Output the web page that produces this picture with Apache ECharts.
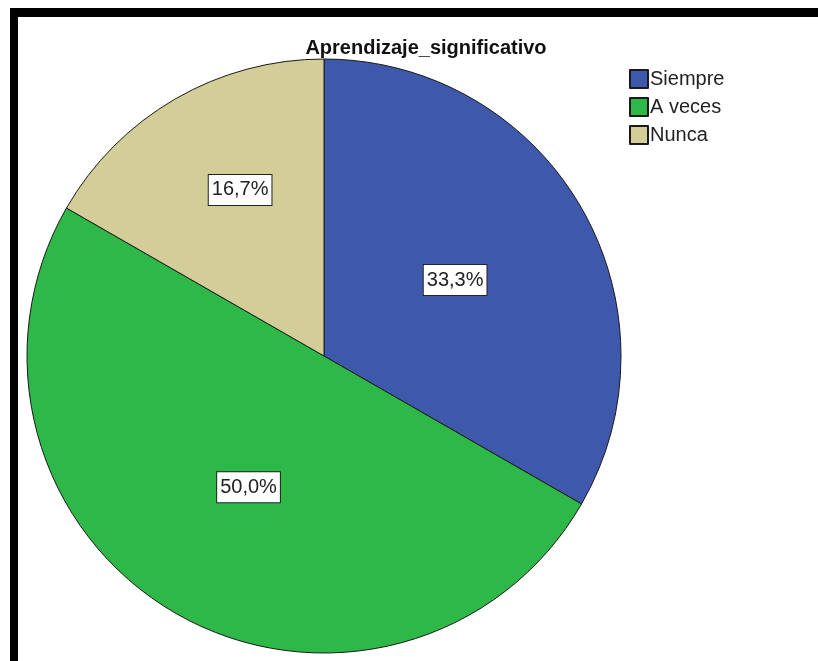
<!DOCTYPE html>
<html>
<head>
<meta charset="utf-8">
<script src="https://cdn.jsdelivr.net/npm/echarts@6/dist/echarts.min.js"></script>
<style>
html,body{margin:0;padding:0;background:#fff;}
#chart{width:818px;height:661px;}
</style>
</head>
<body>
<div id="chart"></div>
<script>
var titleText = 'Aprendizaje_significativo';
var categories = ['Siempre', 'A veces', 'Nunca'];
var percents = [33.3, 50.0, 16.7];
var colors = ['#3E58AC', '#2EB848', '#D3CE97'];

var chart = echarts.init(document.getElementById('chart'), null, {renderer: 'canvas'});

var data = categories.map(function (c, i) {
  var item = {name: c, value: percents[i], itemStyle: {color: colors[i]}};
  if (i === 2) { item.label = {offset: [-8, -35]}; }
  return item;
});

chart.setOption({
  animation: false,
  backgroundColor: '#ffffff',
  title: {
    text: titleText,
    left: 421,
    top: 33,
    textAlign: 'center',
    textStyle: {fontFamily: 'Liberation Sans, Arial, sans-serif', fontWeight: 'bold', fontSize: 20, color: '#111'}
  },
  legend: {
    orient: 'vertical',
    left: 624,
    top: 64,
    itemWidth: 18,
    itemHeight: 18,
    itemGap: 8,
    icon: 'rect',
    selectedMode: false,
    textStyle: {fontFamily: 'Liberation Sans, Arial, sans-serif', fontSize: 20, color: '#222', padding: [0, 0, 0, -3]},
    data: categories
  },
  graphic: [
    {type: 'rect', shape: {x: 10, y: 8, width: 808, height: 9}, style: {fill: '#000'}, z: 100},
    {type: 'rect', shape: {x: 10, y: 8, width: 8, height: 653}, style: {fill: '#000'}, z: 100}
  ],
  series: [{
    type: 'pie',
    center: [324, 356],
    radius: [0, 297],
    startAngle: 90,
    clockwise: true,
    avoidLabelOverlap: false,
    itemStyle: {borderColor: '#1a1a1a', borderWidth: 1},
    emphasis: {disabled: true},
    label: {
      show: true,
      position: 'inside',
      formatter: function (p) { return p.value.toFixed(1).replace('.', ',') + '%'; },
      fontFamily: 'Liberation Sans, Arial, sans-serif',
      fontSize: 20,
      lineHeight: 22,
      color: '#222',
      backgroundColor: '#ffffff',
      borderColor: '#222',
      borderWidth: 1,
      padding: [4, 3, 4, 3]
    },
    labelLine: {show: false},
    data: data
  }]
});
</script>
</body>
</html>
